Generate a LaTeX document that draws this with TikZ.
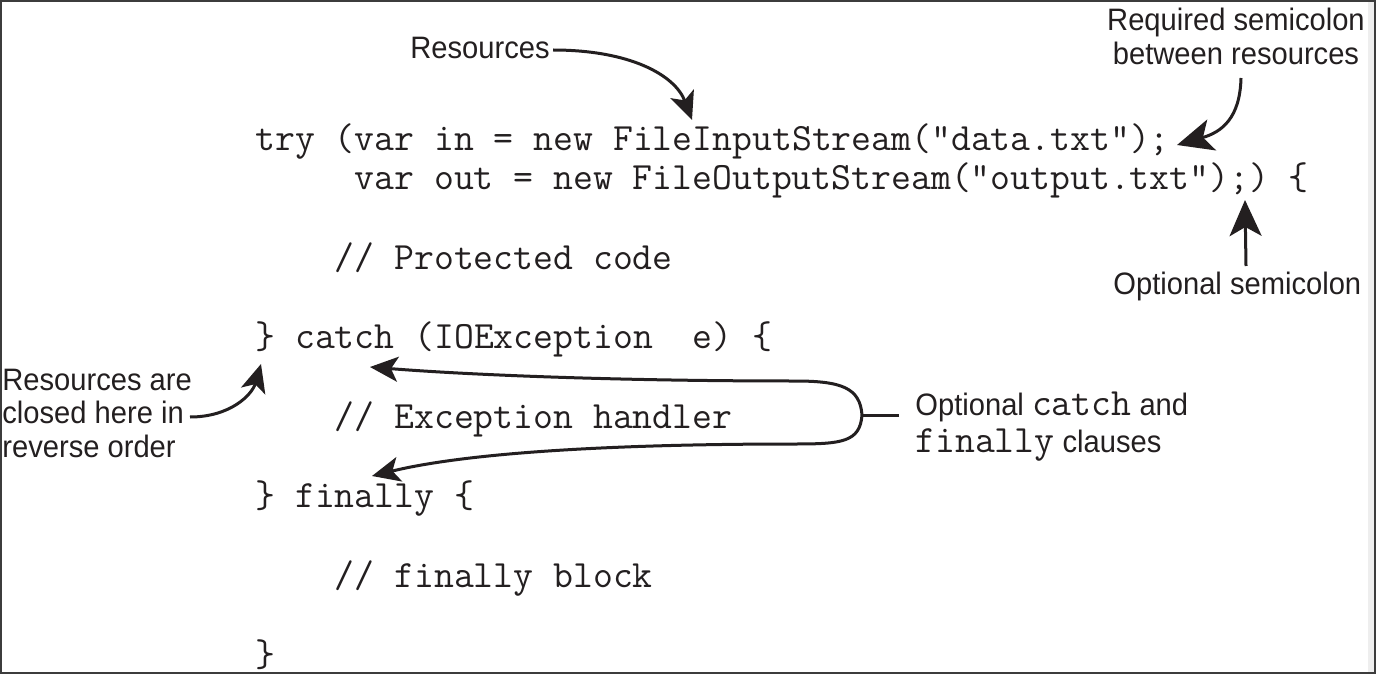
\documentclass[tikz,border=0pt]{standalone}
\usepackage{fontspec}
\setmainfont{Liberation Sans}[FakeStretch=0.94]
\usetikzlibrary{arrows.meta}
\definecolor{ink}{HTML}{231F20}
\definecolor{framec}{HTML}{3C3C3C}
\definecolor{stripc}{HTML}{EEEEEE}
\newcommand\codesize{\ttfamily\fontsize{19.3}{22}\selectfont}
\newcommand\cw[1]{{\codesize #1}}
\frenchspacing
\begin{document}
\begin{tikzpicture}[x=0.5pt,y=-0.5pt,
  code/.style={font=\codesize, anchor=base west, inner sep=0pt, text=ink},
  lab/.style={font={\fontsize{15.5}{18}\selectfont}, anchor=base west, inner sep=0pt, text=ink},
  arr/.style={draw=ink, line width=1.5pt, -{Stealth[length=14pt,width=12.5pt,inset=3.5pt]}},
  bigarr/.style={draw=ink, line width=1.5pt, -{Stealth[length=18pt,width=16pt,inset=4.5pt]}},
  plain/.style={draw=ink, line width=1.5pt}]
\useasboundingbox (0,0) rectangle (1376,674);
\fill[white] (0,0) rectangle (1376,674);
\fill[stripc] (1368,0) rectangle (1375,674);
\draw[framec, line width=1.2pt] (1.2,1.2) rectangle (1374.8,672.8);

% code
\node[code] (c0) at (255,150) {try (var in = new FileInputStream("data.txt");};
\node[code] (c1) at (354.25,189.7) {var out = new FileOutputStream("output.txt");)\ \{};
\node[code] (c3) at (334.4,269) {// Protected code};
\node[code] (c5) at (255,348.5) {\} catch (IOException\ \ e) \{};
\node[code] (c7) at (334.4,428) {// Exception handler};
\node[code] (c9) at (255,507.5) {\} finally \{};
\node[code] (c11) at (334.4,587) {// finally block};
\node[code] (c13) at (255,666) {\}};

% labels
\node[lab] (resources) at (410,59) {Resources};
\node[lab, anchor=base] (req1) at (1236,31) {Required semicolon};
\node[lab, anchor=base] (req2) at (1236,65) {between resources};
\node[lab] (optsemi) at (1113,294) {Optional semicolon};
\node[lab] (rc1) at (2,390) {Resources are};
\node[lab] (rc2) at (2,423.5) {closed here in};
\node[lab] (rc3) at (2,457) {reverse order};
\node[lab] (oc1) at (915,415) {Optional \cw{catch} and};
\node[lab] (oc2) at (915,452) {\cw{finally} clauses};

% arrow end points
\coordinate (resS) at (553,50);
\coordinate (resT) at (692,120);
\coordinate (reqS) at (1241,78);
\coordinate (reqT) at (1177,145);
\coordinate (osS) at (1246,266);
\coordinate (osT) at (1245,200);
\coordinate (rcS) at (190,417);
\coordinate (rcT) at (261,364);
\coordinate (ocS) at (899,415);
\coordinate (loop) at (862,415);
\coordinate (catchT) at (370,367);
\coordinate (finT) at (372,476);

\draw[arr] (resS) .. controls (630,50) and (675,75) .. (resT);
\draw[bigarr] (reqS) .. controls (1240,118) and (1222,132) .. (reqT);
\draw[bigarr] (osS) -- (osT);
\draw[arr] (rcS) .. controls (230,417) and (252,395) .. (rcT);
\draw[plain] (ocS) -- (loop);
\draw[arr] (loop) .. controls (860,388) and (842,381) .. (795,381) .. controls (620,381) and (470,375) .. (catchT);
\draw[arr] (loop) .. controls (860,442) and (842,444) .. (795,444) .. controls (620,444) and (470,452) .. (finT);
\end{tikzpicture}
\end{document}
